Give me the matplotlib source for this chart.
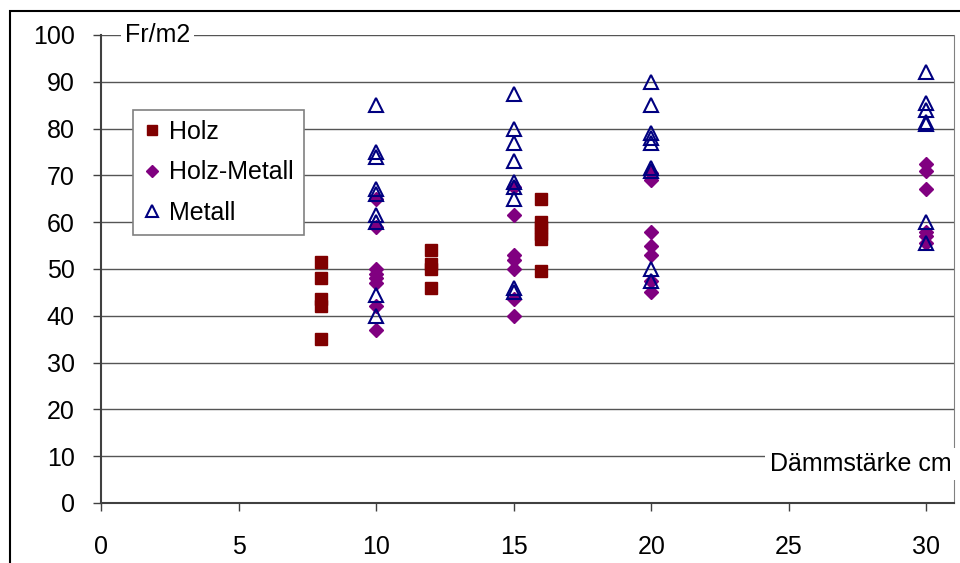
import matplotlib
matplotlib.use("Agg")
import matplotlib.pyplot as plt
from matplotlib.patches import Rectangle

plt.rcParams["font.family"] = ["Liberation Sans", "DejaVu Sans"]
plt.rcParams["font.size"] = 18

# Holz
holz_x = [8, 8, 8, 8, 8, 12, 12, 12, 12, 16, 16, 16, 16, 16, 16]
holz_y = [51.5, 48, 43.5, 42, 35, 54, 51, 50, 46, 65, 60, 59, 57.5, 56.5, 49.5]

# Holz-Metall
hm_x = [10, 10, 10, 10, 10, 10, 10, 10,
        15, 15, 15, 15, 15, 15, 15,
        20, 20, 20, 20, 20, 20, 20,
        30, 30, 30, 30, 30, 30]
hm_y = [65, 59, 50, 49, 48, 47, 42, 37,
        67.5, 61.5, 53, 52, 50, 43.5, 40,
        70.5, 69, 58, 55, 53, 47.5, 45,
        72.5, 71, 67, 58, 57, 55.5]

# Metall
met_x = [10, 10, 10, 10, 10, 10, 10, 10, 10,
         15, 15, 15, 15, 15, 15, 15, 15, 15,
         20, 20, 20, 20, 20, 20, 20, 20, 20,
         30, 30, 30, 30, 30, 30, 30]
met_y = [85, 75, 74, 67, 66, 61.5, 60, 44.5, 40,
         87.5, 80, 77, 73, 68.5, 67.5, 65, 46, 45,
         90, 85, 79, 78, 77, 71.5, 71, 50, 47.5,
         92, 85.5, 84, 81.5, 81, 60, 55.5]

x_ticks = [0, 5, 10, 15, 20, 25, 30]
y_ticks = [0, 10, 20, 30, 40, 50, 60, 70, 80, 90, 100]

fig = plt.figure(figsize=(9.6, 5.63), dpi=100)
ax = fig.add_axes([101 / 960, 60 / 563, 853 / 960, 468 / 563])

for y in y_ticks[1:]:
    ax.axhline(y, color="#555555", lw=1, zorder=1)

ax.plot(holz_x, holz_y, linestyle="none", marker="s", markersize=8.5,
        color="#800000", label="Holz", zorder=3)
ax.plot(hm_x, hm_y, linestyle="none", marker="D", markersize=7.5,
        color="#800080", label="Holz-Metall", zorder=3)
ax.plot(met_x, met_y, linestyle="none", marker="^", markersize=9.5,
        markerfacecolor="none", markeredgecolor="#000080",
        markeredgewidth=1.5, label="Metall", zorder=4)

ax.set_xlim(0, 31)
ax.set_ylim(0, 100)
ax.set_xticks(x_ticks)
ax.set_yticks(y_ticks)
ax.tick_params(direction="out", length=6, width=1, color="#404040")
ax.tick_params(axis="x", pad=17)
ax.tick_params(axis="y", pad=13)

ax.spines["top"].set_visible(False)
ax.spines["right"].set_color("#808080")
ax.spines["left"].set_color("#404040")
ax.spines["bottom"].set_color("#404040")
ax.spines["left"].set_linewidth(1.5)
ax.spines["bottom"].set_linewidth(1.5)

# axis titles sit on the gridlines with a white background, Excel style
ax.text(0.87, 100, "Fr/m2", ha="left", va="center", zorder=5,
        bbox=dict(facecolor="white", edgecolor="none", pad=3))
ax.text(24.3, 8.3, "Dämmstärke cm", ha="left", va="center", zorder=5,
        clip_on=False, bbox=dict(facecolor="white", edgecolor="none", pad=3))

leg = ax.legend(loc="upper left", bbox_to_anchor=(133 / 960, 1 - 110 / 563),
                bbox_transform=fig.transFigure, fancybox=False, framealpha=1,
                edgecolor="#808080", borderaxespad=0, handletextpad=0.3,
                handlelength=0.75, labelspacing=0.65, borderpad=0.4,
                markerscale=0.85)
leg.get_frame().set_linewidth(1.2)
leg.set_zorder(6)

# outer chart frame (only left and top edges are inside the picture)
fig.add_artist(Rectangle((10 / 960, -0.1), 1.2, 552 / 563 + 0.1,
                         transform=fig.transFigure, fill=False,
                         edgecolor="black", lw=1.5))

fig.savefig("out.png", dpi=100)
